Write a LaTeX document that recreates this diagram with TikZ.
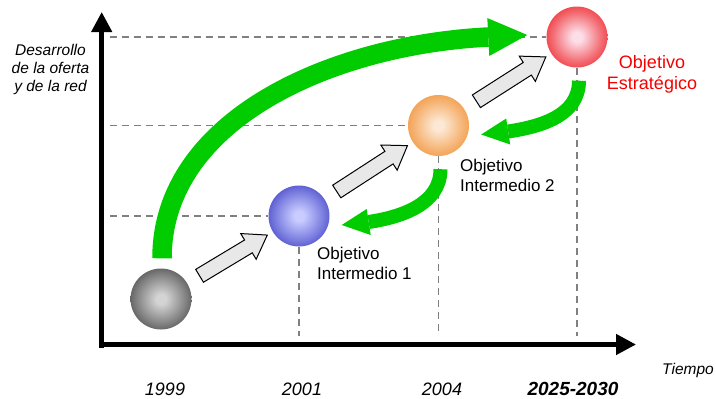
\documentclass[tikz,border=0pt]{standalone}
\usepackage{fontspec}
\setmainfont{Liberation Sans}
\usetikzlibrary{calc,arrows.meta}

\definecolor{ggreen}{RGB}{0,204,0}
\definecolor{dashgray}{RGB}{128,128,128}
\definecolor{arrfill}{RGB}{232,232,232}
\definecolor{redtext}{RGB}{245,0,0}
\definecolor{gIn}{RGB}{212,212,212}
\definecolor{gOut}{RGB}{50,50,50}
\definecolor{bIn}{RGB}{200,204,255}
\definecolor{bOut}{RGB}{44,44,190}
\definecolor{oIn}{RGB}{252,232,212}
\definecolor{oOut}{RGB}{240,136,36}
\definecolor{rIn}{RGB}{252,222,232}
\definecolor{rOut}{RGB}{236,16,20}

\pgfdeclareradialshading{sphgray}{\pgfpoint{0bp}{0bp}}{color(0bp)=(gIn); color(4bp)=(gIn); color(20bp)=(gIn!50!gOut); color(35bp)=(gOut); color(50bp)=(gOut)}
\pgfdeclareradialshading{sphblue}{\pgfpoint{0bp}{0bp}}{color(0bp)=(bIn); color(4bp)=(bIn); color(20bp)=(bIn!50!bOut); color(35bp)=(bOut); color(50bp)=(bOut)}
\pgfdeclareradialshading{sphorange}{\pgfpoint{0bp}{0bp}}{color(0bp)=(oIn); color(4bp)=(oIn); color(20bp)=(oIn!45!oOut); color(35bp)=(oOut); color(50bp)=(oOut)}
\pgfdeclareradialshading{sphred}{\pgfpoint{0bp}{0bp}}{color(0bp)=(rIn); color(4bp)=(rIn); color(20bp)=(rIn!45!rOut); color(35bp)=(rOut); color(50bp)=(rOut)}

\newcommand\grayarrowdraw[2]{%
  \coordinate (T) at ($(#1)!45pt!(#2)$);
  \coordinate (H) at ($(#2)!59pt!(#1)$);
  \coordinate (P) at ($(#2)!37pt!(#1)$);
  \draw[grayarr] ($(T)!7.5pt!90:(#2)$) -- ($(H)!7.5pt!90:(#2)$) -- ($(H)!15pt!90:(#2)$) -- (P)
     -- ($(H)!15pt!-90:(#2)$) -- ($(H)!7.5pt!-90:(#2)$) -- ($(T)!7.5pt!-90:(#2)$) -- cycle;}

\newcommand\greenback[2]{%
  \coordinate (bA) at ($(#1.south)+(2,13)$);
  \coordinate (bE) at ($(#2.east)+(39,6)$);
  \draw[gshaft, line width=14pt] (bA) .. controls ($(bA)+(0,35)$) and ($(bE)+(33,-5)$) .. (bE);
  \fill[ggreen] ($(bE)+(-2,-13)$) -- ($(bE)+(-27,3)$) -- ($(bE)+(2,13)$) -- cycle;}

\begin{document}
\begin{tikzpicture}[x=1pt,y=-1pt,
  axis/.style={line width=4.5pt, -{Triangle[length=20pt,width=20pt]}},
  dashln/.style={draw=dashgray, line width=1.3pt, dash pattern=on 7pt off 5pt},
  sph/.style={circle, minimum size=61pt, inner sep=0pt, shade},
  grayarr/.style={fill=arrfill, draw=black, line width=1pt, line join=miter},
  gshaft/.style={draw=ggreen},
  lbl/.style={font=\fontsize{17}{20}\selectfont, align=left, inner sep=0pt},
  yr/.style={font=\fontsize{18}{21}\selectfont\itshape, inner sep=0pt, anchor=base}]
\useasboundingbox (0,0) rectangle (716,399);

% axes origin
\coordinate (O) at (101.7,344.5);
\coordinate (ytop) at (101.7,12);
\coordinate (xend) at (636,344.5);

% spheres
\node[sph, shading=sphgray] (s0) at (161,299) {};
\node[sph, shading=sphblue] (s1) at (299,216) {};
\node[sph, shading=sphorange] (s2) at (438.5,125.5) {};
\node[sph, shading=sphred] (s3) at (577,37) {};

% dashed guide lines
\draw[dashln] ($(O|-s3.west)+(8,0)$) -- (s3.west);
\draw[dashln] ($(O|-s2.west)+(8,0)$) -- (s2.west);
\draw[dashln] ($(O|-s1.west)+(8,0)$) -- (s1.west);
\draw[dashln] (s1.south) -- ($(s1.south|-O)+(0,-9)$);
\draw[dashln] (s2.south) -- ($(s2.south|-O)+(0,-9)$);
\draw[dashln] (s3.south) -- ($(s3.south|-O)+(0,-9)$);

% axes
\draw[axis] ($(O)+(0,3)$) -- (ytop);
\draw[axis] ($(O)+(-2.2,0)$) -- (xend);

% big green arrow
\coordinate (gA) at ($(s0.north)+(1,-10)$);
\coordinate (gE) at ($(s3.west)+(-58,0)$);
\draw[gshaft, line width=19.5pt] (gA) .. controls ($(gA)+(0,-138)$) and ($(gE)+(-158,8)$) .. (gE);
\fill[ggreen] ($(gE)+(-1,-19)$) -- ($(gE)+(39,-2)$) -- ($(gE)+(1,19)$) -- cycle;

% small green arrows
\greenback{s3}{s2}
\greenback{s2}{s1}

% gray arrows
\grayarrowdraw{s0}{s1}
\grayarrowdraw{s1}{s2}
\grayarrowdraw{s2}{s3}

% labels
\node[lbl, anchor=north west] (l1) at (317,247) {Objetivo\\Intermedio 1};
\node[lbl, anchor=north west] (l2) at (460,159) {Objetivo\\Intermedio 2};
\node[lbl, text=redtext, align=center, anchor=north, font=\fontsize{18}{21}\selectfont] (l3) at (652,55) {Objetivo\\Estratégico};
\node[font=\fontsize{15.5}{18}\selectfont\itshape, align=center, anchor=north, inner sep=0pt] (ylab) at (50.5,44) {Desarrollo\\de la oferta\\y de la red};

\node[yr] (t1) at (165,395) {1999};
\node[yr] (t2) at (302,395) {2001};
\node[yr] (t3) at (442,395) {2004};
\node[yr, font=\fontsize{19}{22}\selectfont\bfseries\itshape] (t4) at (573,395) {2025-2030};
\node[font=\fontsize{15.5}{18}\selectfont\itshape, inner sep=0pt, anchor=base] (tiempo) at (688,374) {Tiempo};
\end{tikzpicture}
\end{document}
